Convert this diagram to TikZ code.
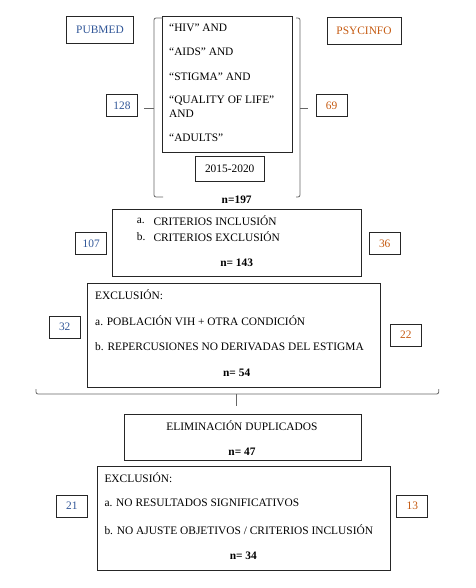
\documentclass[tikz,border=0pt]{standalone}
\usepackage{fontspec}
\setmainfont{Liberation Serif}
\usetikzlibrary{positioning}
\definecolor{pubblue}{HTML}{2F5597}
\definecolor{psyorange}{HTML}{C55A11}

\tikzset{
  box/.style={draw=black!85,line width=0.8pt,inner sep=0pt},
  numbox/.style={box,minimum width=31pt,minimum height=22pt},
  txt/.style={inner sep=0pt,anchor=west,font=\fontsize{11.4}{14}\selectfont},
  ntxt/.style={inner sep=0pt,font=\fontsize{11.4}{14}\selectfont\bfseries},
  brace/.style={draw=black!60,line width=0.8pt,rounded corners=2pt},
}

\begin{document}
\begin{tikzpicture}[x=1pt,y=-1pt,font=\fontsize{11.4}{14}\selectfont]
\useasboundingbox (0,0) rectangle (475,588);
% bases de datos
\node (pubmed) [box,minimum width=67pt,minimum height=27pt,text=pubblue] at (100,30) {PUBMED};
\node (psyc) [box,minimum width=74pt,minimum height=27pt,text=psyorange] at (364,31) {PSYCINFO};
\node (n128) [numbox,text=pubblue] at (122,105.5) {128};
\node (n69) [numbox,text=psyorange] at (331.5,105.5) {69};
% busqueda
\node (kwbox) [box,minimum width=130pt,minimum height=136pt] at (227.3,84.5) {};
\node (kw1) [txt] at (169,28) {“HIV” AND};
\node (kw2) [txt] at (169,52) {“AIDS” AND};
\node (kw3) [txt] at (169,77) {“STIGMA” AND};
\node (kw4) [txt,align=left] at (169,107) {“QUALITY OF LIFE”\\AND};
\node (kw5) [txt] at (169,138) {“ADULTS”};
\node (years) [box,minimum width=69pt,minimum height=25pt] at (229.7,169.2) {2015-2020};
\node (n197) [ntxt] at (236.7,199.3) {n=197};
\draw[brace] (163,18) -- (154,18) -- (154,108) coordinate (lb) -- (154,197) -- (163,197);
\draw[brace] (lb) -- (144,108);
\draw[brace] (296,18) -- (300,18) -- (300,108) coordinate (rb) -- (300,197) -- (296,197);
\draw[brace] (rb) -- (308,108);
% criterios
\node (crit) [box,minimum width=249pt,minimum height=67pt] at (236.7,243) {};
\node (ca) [txt] at (136.7,220.7) {a.};
\node (ca2) [txt] at (153.3,220.7) {CRITERIOS INCLUSIÓN};
\node (cb) [txt] at (136.7,236.7) {b.};
\node (cb2) [txt] at (153.3,236.7) {CRITERIOS EXCLUSIÓN};
\node (n143) [ntxt] at (236.7,262.7) {n= 143};
\node (n107) [numbox,text=pubblue] at (91.2,243.3) {107};
\node (n36) [numbox,text=psyorange] at (384.7,243.3) {36};
% exclusion 1
\node (excl1) [box,minimum width=293pt,minimum height=104pt] at (233.8,335.3) {};
\node (e1t) [txt] at (95,295) {EXCLUSIÓN:};
\node (e1a) [txt] at (95,320.7) {a. POBLACIÓN VIH + OTRA CONDICIÓN};
\node (e1b) [txt] at (95,346.7) {b. REPERCUSIONES NO DERIVADAS DEL ESTIGMA};
\node (n54) [ntxt] at (236.7,373.3) {n= 54};
\node (n32) [numbox,text=pubblue] at (64.7,327.2) {32};
\node (n22) [numbox,text=psyorange] at (405.8,335) {22};
\draw[brace] (36,389) -- (36,394) -- (236.7,394) coordinate (bb) -- (438.7,394) -- (438.7,389);
\draw[brace] (bb) -- (236.7,406);
% duplicados
\node (dup) [box,minimum width=237pt,minimum height=46pt] at (242.7,437.3) {};
\node (dupt) [inner sep=0pt] at (242,425.7) {ELIMINACIÓN DUPLICADOS};
\node (n47) [ntxt] at (242,451.7) {n= 47};
% exclusion 2
\node (excl2) [box,minimum width=293pt,minimum height=104pt] at (243.8,518.5) {};
\node (e2t) [txt] at (104.3,477.3) {EXCLUSIÓN:};
\node (e2a) [txt] at (104.3,503.3) {a. NO RESULTADOS SIGNIFICATIVOS};
\node (e2b) [txt] at (104.3,529.3) {b. NO AJUSTE OBJETIVOS / CRITERIOS INCLUSIÓN};
\node (n34) [ntxt] at (243.3,556) {n= 34};
\node (n21) [numbox,text=pubblue] at (71.8,506) {21};
\node (n13) [numbox,text=psyorange] at (412.3,506) {13};
\end{tikzpicture}
\end{document}
